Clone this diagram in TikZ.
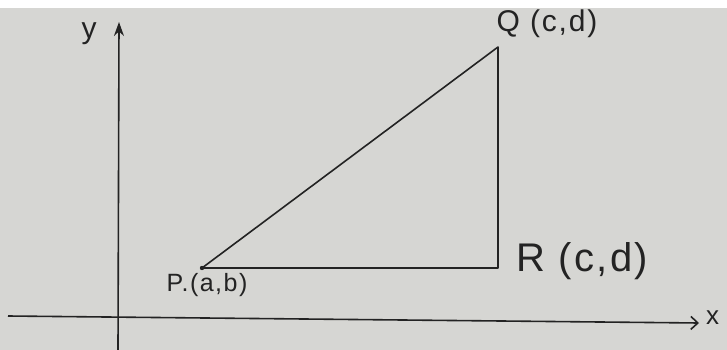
\documentclass[tikz,border=0pt]{standalone}
\usepackage{fontspec}
\setmainfont{Liberation Sans}
\newfontfamily\hand[LetterSpace=6]{Liberation Sans}
\usetikzlibrary{arrows.meta}
\definecolor{paper}{RGB}{214,214,211}
\definecolor{ink}{RGB}{35,35,35}
\begin{document}
\begin{tikzpicture}[x=1pt,y=-1pt,
  inkline/.style={draw=ink, line width=1.6pt},
  lbl/.style={text=ink, inner sep=0pt, font=\hand}]
\useasboundingbox (0,0) rectangle (727,350);
\fill[white] (0,0) rectangle (727,8);
\fill[paper] (0,8) rectangle (727,350);
% axes
\coordinate (xs) at (8,316);
\coordinate (xe) at (699,323);
\coordinate (ys) at (118,350);
\coordinate (ye) at (119,22);
\draw[inkline, -{Straight Barb[length=7pt,width=13pt]}] (xs) -- (xe);
\draw[inkline, -{Stealth[length=14pt,width=10pt]}] (ys) -- (ye);
\node[lbl, font=\hand\fontsize{30}{30}\selectfont] (ylab) at (89,34) {y};
\node[lbl, font=\hand\fontsize{26}{26}\selectfont, anchor=west] (xlab) at (706,318) {x};
% triangle
\coordinate (P) at (202,268);
\coordinate (R) at (498,268);
\coordinate (Q) at (498,47);
\draw[inkline, line join=round] (P) -- (Q) -- (R) -- cycle;
\fill[ink] (P) circle (2.2pt);
\node[lbl, font=\hand\fontsize{25}{25}\selectfont] (Plab) at (207,285) {P.(a,b)};
\node[lbl, font=\hand\fontsize{30}{30}\selectfont] (Qlab) at (547,24) {Q (c,d)};
\node[lbl, font=\hand\fontsize{40}{40}\selectfont] (Rlab) at (582,261) {R (c,d)};
\end{tikzpicture}
\end{document}
